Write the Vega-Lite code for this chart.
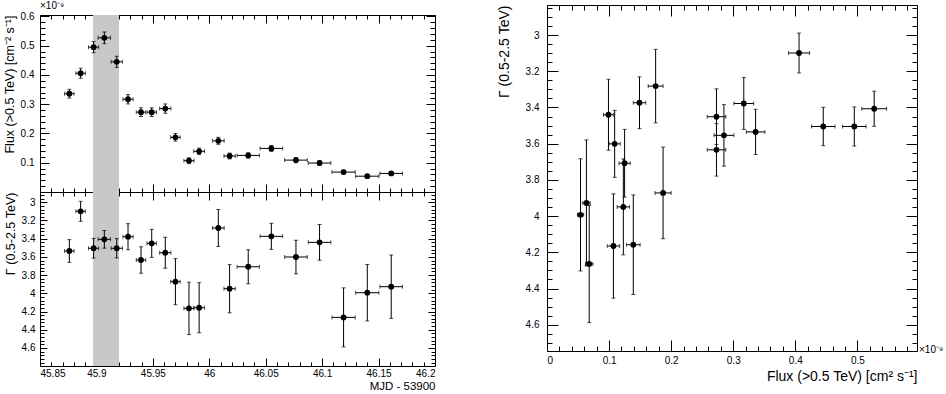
{
  "$schema": "https://vega.github.io/schema/vega-lite/v6.json",
  "padding": {"left": 2, "top": 0, "right": 0, "bottom": 0},
  "background": "white",
  "config": {
    "font": "Liberation Sans",
    "view": {"stroke": "black", "strokeWidth": 1},
    "axis": {"domain": false, "grid": false, "ticks": true, "zindex": 2, "tickColor": "black", "tickWidth": 1, "tickOpacity": 1, "labelFont": "Liberation Sans", "labelFontSize": 10, "labelColor": "black", "titleFont": "Liberation Sans", "titleFontWeight": "normal", "titleColor": "black", "format": "~g"},
    "axisX": {"ticks": true, "tickColor": "black", "tickWidth": 1, "tickOpacity": 1},
    "axisY": {"ticks": true, "tickColor": "black", "tickWidth": 1, "tickOpacity": 1},
    "axisQuantitative": {"ticks": true, "tickColor": "black", "tickWidth": 1, "tickOpacity": 1}
  },
  "data": {"values": [
    {"t": 45.876, "terr": 0.0042, "flux": 0.336, "ferr": 0.015, "g": 3.535, "gerr": 0.125},
    {"t": 45.886, "terr": 0.0042, "flux": 0.406, "ferr": 0.017, "g": 3.099, "gerr": 0.11},
    {"t": 45.8975, "terr": 0.0045, "flux": 0.495, "ferr": 0.019, "g": 3.505, "gerr": 0.108},
    {"t": 45.907, "terr": 0.0055, "flux": 0.527, "ferr": 0.02, "g": 3.407, "gerr": 0.097},
    {"t": 45.918, "terr": 0.005, "flux": 0.445, "ferr": 0.019, "g": 3.505, "gerr": 0.106},
    {"t": 45.928, "terr": 0.0045, "flux": 0.317, "ferr": 0.016, "g": 3.378, "gerr": 0.143},
    {"t": 45.9395, "terr": 0.0042, "flux": 0.273, "ferr": 0.015, "g": 3.634, "gerr": 0.145},
    {"t": 45.949, "terr": 0.0042, "flux": 0.273, "ferr": 0.015, "g": 3.451, "gerr": 0.154},
    {"t": 45.961, "terr": 0.005, "flux": 0.285, "ferr": 0.016, "g": 3.554, "gerr": 0.17},
    {"t": 45.97, "terr": 0.0042, "flux": 0.187, "ferr": 0.013, "g": 3.872, "gerr": 0.253},
    {"t": 45.982, "terr": 0.0045, "flux": 0.107, "ferr": 0.01, "g": 4.165, "gerr": 0.288},
    {"t": 45.991, "terr": 0.0048, "flux": 0.139, "ferr": 0.011, "g": 4.158, "gerr": 0.275},
    {"t": 46.008, "terr": 0.0052, "flux": 0.175, "ferr": 0.012, "g": 3.282, "gerr": 0.203},
    {"t": 46.018, "terr": 0.005, "flux": 0.123, "ferr": 0.01, "g": 3.949, "gerr": 0.265},
    {"t": 46.0345, "terr": 0.0099, "flux": 0.125, "ferr": 0.009, "g": 3.708, "gerr": 0.187},
    {"t": 46.055, "terr": 0.01, "flux": 0.149, "ferr": 0.01, "g": 3.374, "gerr": 0.143},
    {"t": 46.0768, "terr": 0.01, "flux": 0.109, "ferr": 0.009, "g": 3.601, "gerr": 0.185},
    {"t": 46.0977, "terr": 0.01, "flux": 0.099, "ferr": 0.008, "g": 3.44, "gerr": 0.196},
    {"t": 46.119, "terr": 0.0103, "flux": 0.068, "ferr": 0.006, "g": 4.264, "gerr": 0.324},
    {"t": 46.14, "terr": 0.0103, "flux": 0.054, "ferr": 0.005, "g": 3.993, "gerr": 0.31},
    {"t": 46.1612, "terr": 0.01, "flux": 0.0635, "ferr": 0.006, "g": 3.927, "gerr": 0.348}
  ]},
  "hconcat": [
    {
      "vconcat": [
        {
          "width": 395, "height": 10,
          "view": {"stroke": null},
          "data": {"values": [{}]},
          "mark": {"type": "point", "opacity": 0},
          "encoding": {}
        },
        {
          "width": 395, "height": 177,
          "resolve": {"axis": {"x": "independent", "y": "independent"}},
          "layer": [
            {
              "data": {"values": [{"s": 45.897, "e": 45.92}]},
              "mark": {"type": "rect", "color": "#c8c8c8"},
              "encoding": {
                "x": {"field": "s", "type": "quantitative", "axis": null, "scale": {"domain": [45.85, 46.2], "nice": false, "zero": false}},
                "x2": {"field": "e"}
              }
            },
            {
              "mark": {"type": "errorbar", "color": "black", "thickness": 1, "ticks": {"size": 4, "color": "black"}},
              "encoding": {
                "x": {"field": "t", "type": "quantitative", "axis": null, "scale": {"domain": [45.85, 46.2], "nice": false, "zero": false}},
                "xError": {"field": "terr"},
                "y": {"field": "flux", "type": "quantitative", "axis": null, "scale": {"domain": [0, 0.605], "nice": false, "zero": false}}
              }
            },
            {
              "mark": {"type": "errorbar", "color": "black", "thickness": 1, "ticks": {"size": 4, "color": "black"}},
              "encoding": {
                "x": {"field": "t", "type": "quantitative", "axis": null, "scale": {"domain": [45.85, 46.2], "nice": false, "zero": false}},
                "y": {"field": "flux", "type": "quantitative", "axis": null, "scale": {"domain": [0, 0.605], "nice": false, "zero": false}},
                "yError": {"field": "ferr"}
              }
            },
            {
              "mark": {"type": "circle", "size": 34, "color": "black", "opacity": 1},
              "encoding": {
                "x": {"field": "t", "type": "quantitative", "scale": {"domain": [45.85, 46.2], "nice": false, "zero": false},
                  "axis": {"orient": "bottom", "title": null, "labels": false, "values": [45.85,45.9,45.95,46,46.05,46.1,46.15,46.2], "ticks": true, "tickColor": "black", "tickWidth": 1, "tickOpacity": 1, "tickSize": 8, "offset": -8}},
                "y": {"field": "flux", "type": "quantitative", "scale": {"domain": [0, 0.605], "nice": false, "zero": false},
                  "axis": {"orient": "left", "title": "Flux (>0.5 TeV) [cm⁻² s⁻¹]", "titleAnchor": "end", "titleFontSize": 12.5, "titlePadding": 4,
                    "values": [0.1,0.2,0.3,0.4,0.5,0.6], "labelPadding": 6, "ticks": true, "tickColor": "black", "tickWidth": 1, "tickOpacity": 1, "tickSize": 9, "offset": -9}}
              }
            },
            {
              "mark": {"type": "circle", "opacity": 0},
              "encoding": {
                "x": {"field": "t", "type": "quantitative", "scale": {"domain": [45.85, 46.2], "nice": false, "zero": false},
                  "axis": {"orient": "bottom", "title": null, "labels": false, "ticks": true, "tickColor": "black", "tickWidth": 1, "tickOpacity": 1, "tickSize": 4, "offset": -4,
                    "values": [45.86,45.87,45.88,45.89,45.91,45.92,45.93,45.94,45.96,45.97,45.98,45.99,46.01,46.02,46.03,46.04,46.06,46.07,46.08,46.09,46.11,46.12,46.13,46.14,46.16,46.17,46.18,46.19]}},
                "y": {"field": "flux", "type": "quantitative", "scale": {"domain": [0, 0.605], "nice": false, "zero": false},
                  "axis": {"orient": "left", "title": null, "labels": false, "ticks": true, "tickColor": "black", "tickWidth": 1, "tickOpacity": 1, "tickSize": 5, "offset": -5,
                    "values": [0.02,0.04,0.06,0.08,0.12,0.14,0.16,0.18,0.22,0.24,0.26,0.28,0.32,0.34,0.36,0.38,0.42,0.44,0.46,0.48,0.52,0.54,0.56,0.58]}}
              }
            },
            {
              "mark": {"type": "circle", "opacity": 0},
              "encoding": {
                "x": {"field": "t", "type": "quantitative", "scale": {"domain": [45.85, 46.2], "nice": false, "zero": false},
                  "axis": {"orient": "top", "title": null, "labels": false, "values": [45.85,45.9,45.95,46,46.05,46.1,46.15,46.2], "ticks": true, "tickColor": "black", "tickWidth": 1, "tickOpacity": 1, "tickSize": 8, "offset": -8}},
                "y": {"field": "flux", "type": "quantitative", "scale": {"domain": [0, 0.605], "nice": false, "zero": false},
                  "axis": {"orient": "right", "title": null, "labels": false, "values": [0.1,0.2,0.3,0.4,0.5,0.6], "ticks": true, "tickColor": "black", "tickWidth": 1, "tickOpacity": 1, "tickSize": 9, "offset": -9}}
              }
            },
            {
              "mark": {"type": "circle", "opacity": 0},
              "encoding": {
                "x": {"field": "t", "type": "quantitative", "scale": {"domain": [45.85, 46.2], "nice": false, "zero": false},
                  "axis": {"orient": "top", "title": null, "labels": false, "ticks": true, "tickColor": "black", "tickWidth": 1, "tickOpacity": 1, "tickSize": 4, "offset": -4,
                    "values": [45.86,45.87,45.88,45.89,45.91,45.92,45.93,45.94,45.96,45.97,45.98,45.99,46.01,46.02,46.03,46.04,46.06,46.07,46.08,46.09,46.11,46.12,46.13,46.14,46.16,46.17,46.18,46.19]}},
                "y": {"field": "flux", "type": "quantitative", "scale": {"domain": [0, 0.605], "nice": false, "zero": false},
                  "axis": {"orient": "right", "title": null, "labels": false, "ticks": true, "tickColor": "black", "tickWidth": 1, "tickOpacity": 1, "tickSize": 5, "offset": -5,
                    "values": [0.02,0.04,0.06,0.08,0.12,0.14,0.16,0.18,0.22,0.24,0.26,0.28,0.32,0.34,0.36,0.38,0.42,0.44,0.46,0.48,0.52,0.54,0.56,0.58]}}
              }
            },
            {
              "data": {"values": [{"lab": "×10⁻⁹"}]},
              "mark": {"type": "text", "align": "left", "baseline": "alphabetic", "dy": -6, "fontSize": 10, "color": "black"},
              "encoding": {
                "x": {"datum": 45.85, "type": "quantitative", "axis": null, "scale": {"domain": [45.85, 46.2], "nice": false, "zero": false}},
                "y": {"datum": 0.605, "type": "quantitative", "axis": null, "scale": {"domain": [0, 0.605], "nice": false, "zero": false}},
                "text": {"field": "lab"}
              }
            }
          ]
        },
        {
          "width": 395, "height": 174,
          "resolve": {"axis": {"x": "independent", "y": "independent"}},
          "layer": [
            {
              "data": {"values": [{"s": 45.897, "e": 45.92}]},
              "mark": {"type": "rect", "color": "#c8c8c8"},
              "encoding": {
                "x": {"field": "s", "type": "quantitative", "axis": null, "scale": {"domain": [45.85, 46.2], "nice": false, "zero": false}},
                "x2": {"field": "e"}
              }
            },
            {
              "mark": {"type": "errorbar", "color": "black", "thickness": 1, "ticks": {"size": 4, "color": "black"}},
              "encoding": {
                "x": {"field": "t", "type": "quantitative", "axis": null, "scale": {"domain": [45.85, 46.2], "nice": false, "zero": false}},
                "xError": {"field": "terr"},
                "y": {"field": "g", "type": "quantitative", "axis": null, "scale": {"domain": [2.887, 4.798], "nice": false, "zero": false, "reverse": true}}
              }
            },
            {
              "mark": {"type": "errorbar", "color": "black", "thickness": 1, "ticks": {"size": 4, "color": "black"}},
              "encoding": {
                "x": {"field": "t", "type": "quantitative", "axis": null, "scale": {"domain": [45.85, 46.2], "nice": false, "zero": false}},
                "y": {"field": "g", "type": "quantitative", "axis": null, "scale": {"domain": [2.887, 4.798], "nice": false, "zero": false, "reverse": true}},
                "yError": {"field": "gerr"}
              }
            },
            {
              "mark": {"type": "circle", "size": 34, "color": "black", "opacity": 1},
              "encoding": {
                "x": {"field": "t", "type": "quantitative", "scale": {"domain": [45.85, 46.2], "nice": false, "zero": false},
                  "axis": {"orient": "bottom", "title": "MJD - 53900", "titleAnchor": "end", "titleFontSize": 11.5, "titlePadding": 2,
                    "values": [45.85,45.9,45.95,46,46.05,46.1,46.15,46.2], "labelPadding": 2, "ticks": true, "tickColor": "black", "tickWidth": 1, "tickOpacity": 1, "tickSize": 8, "offset": -8}},
                "y": {"field": "g", "type": "quantitative", "scale": {"domain": [2.887, 4.798], "nice": false, "zero": false, "reverse": true},
                  "axis": {"orient": "left", "title": "Γ (0.5-2.5 TeV)", "titleAnchor": "start", "titleAlign": "right", "titleFontSize": 12.5, "titlePadding": 4,
                    "values": [3,3.2,3.4,3.6,3.8,4,4.2,4.4,4.6], "labelPadding": 5, "ticks": true, "tickColor": "black", "tickWidth": 1, "tickOpacity": 1, "tickSize": 7, "offset": -7}}
              }
            },
            {
              "mark": {"type": "circle", "opacity": 0},
              "encoding": {
                "x": {"field": "t", "type": "quantitative", "scale": {"domain": [45.85, 46.2], "nice": false, "zero": false},
                  "axis": {"orient": "bottom", "title": null, "labels": false, "ticks": true, "tickColor": "black", "tickWidth": 1, "tickOpacity": 1, "tickSize": 4, "offset": -4,
                    "values": [45.86,45.87,45.88,45.89,45.91,45.92,45.93,45.94,45.96,45.97,45.98,45.99,46.01,46.02,46.03,46.04,46.06,46.07,46.08,46.09,46.11,46.12,46.13,46.14,46.16,46.17,46.18,46.19]}},
                "y": {"field": "g", "type": "quantitative", "scale": {"domain": [2.887, 4.798], "nice": false, "zero": false, "reverse": true},
                  "axis": {"orient": "left", "title": null, "labels": false, "ticks": true, "tickColor": "black", "tickWidth": 1, "tickOpacity": 1, "tickSize": 4, "offset": -4,
                    "values": [2.92,2.96,3.04,3.08,3.12,3.16,3.24,3.28,3.32,3.36,3.44,3.48,3.52,3.56,3.64,3.68,3.72,3.76,3.84,3.88,3.92,3.96,4.04,4.08,4.12,4.16,4.24,4.28,4.32,4.36,4.44,4.48,4.52,4.56,4.64,4.68,4.72,4.76]}}
              }
            },
            {
              "mark": {"type": "circle", "opacity": 0},
              "encoding": {
                "x": {"field": "t", "type": "quantitative", "scale": {"domain": [45.85, 46.2], "nice": false, "zero": false},
                  "axis": {"orient": "top", "title": null, "labels": false, "values": [45.85,45.9,45.95,46,46.05,46.1,46.15,46.2], "ticks": true, "tickColor": "black", "tickWidth": 1, "tickOpacity": 1, "tickSize": 8, "offset": -8}},
                "y": {"field": "g", "type": "quantitative", "scale": {"domain": [2.887, 4.798], "nice": false, "zero": false, "reverse": true},
                  "axis": {"orient": "right", "title": null, "labels": false, "values": [3,3.2,3.4,3.6,3.8,4,4.2,4.4,4.6], "ticks": true, "tickColor": "black", "tickWidth": 1, "tickOpacity": 1, "tickSize": 7, "offset": -7}}
              }
            },
            {
              "mark": {"type": "circle", "opacity": 0},
              "encoding": {
                "x": {"field": "t", "type": "quantitative", "scale": {"domain": [45.85, 46.2], "nice": false, "zero": false},
                  "axis": {"orient": "top", "title": null, "labels": false, "ticks": true, "tickColor": "black", "tickWidth": 1, "tickOpacity": 1, "tickSize": 4, "offset": -4,
                    "values": [45.86,45.87,45.88,45.89,45.91,45.92,45.93,45.94,45.96,45.97,45.98,45.99,46.01,46.02,46.03,46.04,46.06,46.07,46.08,46.09,46.11,46.12,46.13,46.14,46.16,46.17,46.18,46.19]}},
                "y": {"field": "g", "type": "quantitative", "scale": {"domain": [2.887, 4.798], "nice": false, "zero": false, "reverse": true},
                  "axis": {"orient": "right", "title": null, "labels": false, "ticks": true, "tickColor": "black", "tickWidth": 1, "tickOpacity": 1, "tickSize": 4, "offset": -4,
                    "values": [2.92,2.96,3.04,3.08,3.12,3.16,3.24,3.28,3.32,3.36,3.44,3.48,3.52,3.56,3.64,3.68,3.72,3.76,3.84,3.88,3.92,3.96,4.04,4.08,4.12,4.16,4.24,4.28,4.32,4.36,4.44,4.48,4.52,4.56,4.64,4.68,4.72,4.76]}}
              }
            }
          ]
        }
      ],
      "spacing": 0,
      "bounds": "flush"
    },
    {
      "width": 370, "height": 346,
      "resolve": {"axis": {"x": "independent", "y": "independent"}},
      "layer": [
        {
          "mark": {"type": "errorbar", "color": "black", "thickness": 1, "ticks": {"size": 4, "color": "black"}},
          "encoding": {
            "x": {"field": "flux", "type": "quantitative", "axis": null, "scale": {"domain": [0, 0.596], "nice": false, "zero": false}},
            "xError": {"field": "ferr"},
            "y": {"field": "g", "type": "quantitative", "axis": null, "scale": {"domain": [2.834, 4.745], "nice": false, "zero": false, "reverse": true}}
          }
        },
        {
          "mark": {"type": "errorbar", "color": "black", "thickness": 1, "ticks": {"size": 4, "color": "black"}},
          "encoding": {
            "x": {"field": "flux", "type": "quantitative", "axis": null, "scale": {"domain": [0, 0.596], "nice": false, "zero": false}},
            "y": {"field": "g", "type": "quantitative", "axis": null, "scale": {"domain": [2.834, 4.745], "nice": false, "zero": false, "reverse": true}},
            "yError": {"field": "gerr"}
          }
        },
        {
          "mark": {"type": "circle", "size": 34, "color": "black", "opacity": 1},
          "encoding": {
            "x": {"field": "flux", "type": "quantitative", "scale": {"domain": [0, 0.596], "nice": false, "zero": false},
              "axis": {"orient": "bottom", "title": "Flux (>0.5 TeV) [cm² s⁻¹]", "titleAnchor": "end", "titleFontSize": 14, "titlePadding": 4,
                "values": [0,0.1,0.2,0.3,0.4,0.5], "labelPadding": 4, "ticks": true, "tickColor": "black", "tickWidth": 1, "tickOpacity": 1, "tickSize": 11, "offset": -11}},
            "y": {"field": "g", "type": "quantitative", "scale": {"domain": [2.834, 4.745], "nice": false, "zero": false, "reverse": true},
              "axis": {"orient": "left", "title": "Γ (0.5-2.5 TeV)", "titleAnchor": "start", "titleAlign": "right", "titleFontSize": 14, "titlePadding": 14,
                "values": [3,3.2,3.4,3.6,3.8,4,4.2,4.4,4.6], "labelPadding": 8, "ticks": true, "tickColor": "black", "tickWidth": 1, "tickOpacity": 1, "tickSize": 11, "offset": -11}}
          }
        },
        {
          "mark": {"type": "circle", "opacity": 0},
          "encoding": {
            "x": {"field": "flux", "type": "quantitative", "scale": {"domain": [0, 0.596], "nice": false, "zero": false},
              "axis": {"orient": "bottom", "title": null, "labels": false, "ticks": true, "tickColor": "black", "tickWidth": 1, "tickOpacity": 1, "tickSize": 5, "offset": -5,
                "values": [0.02,0.04,0.06,0.08,0.12,0.14,0.16,0.18,0.22,0.24,0.26,0.28,0.32,0.34,0.36,0.38,0.42,0.44,0.46,0.48,0.52,0.54,0.56,0.58]}},
            "y": {"field": "g", "type": "quantitative", "scale": {"domain": [2.834, 4.745], "nice": false, "zero": false, "reverse": true},
              "axis": {"orient": "left", "title": null, "labels": false, "ticks": true, "tickColor": "black", "tickWidth": 1, "tickOpacity": 1, "tickSize": 5, "offset": -5,
                "values": [2.85,2.9,2.95,3.05,3.1,3.15,3.25,3.3,3.35,3.45,3.5,3.55,3.65,3.7,3.75,3.85,3.9,3.95,4.05,4.1,4.15,4.25,4.3,4.35,4.45,4.5,4.55,4.65,4.7]}}
          }
        },
        {
          "mark": {"type": "circle", "opacity": 0},
          "encoding": {
            "x": {"field": "flux", "type": "quantitative", "scale": {"domain": [0, 0.596], "nice": false, "zero": false},
              "axis": {"orient": "top", "title": null, "labels": false, "values": [0,0.1,0.2,0.3,0.4,0.5], "ticks": true, "tickColor": "black", "tickWidth": 1, "tickOpacity": 1, "tickSize": 11, "offset": -11}},
            "y": {"field": "g", "type": "quantitative", "scale": {"domain": [2.834, 4.745], "nice": false, "zero": false, "reverse": true},
              "axis": {"orient": "right", "title": null, "labels": false, "values": [3,3.2,3.4,3.6,3.8,4,4.2,4.4,4.6], "ticks": true, "tickColor": "black", "tickWidth": 1, "tickOpacity": 1, "tickSize": 11, "offset": -11}}
          }
        },
        {
          "mark": {"type": "circle", "opacity": 0},
          "encoding": {
            "x": {"field": "flux", "type": "quantitative", "scale": {"domain": [0, 0.596], "nice": false, "zero": false},
              "axis": {"orient": "top", "title": null, "labels": false, "ticks": true, "tickColor": "black", "tickWidth": 1, "tickOpacity": 1, "tickSize": 5, "offset": -5,
                "values": [0.02,0.04,0.06,0.08,0.12,0.14,0.16,0.18,0.22,0.24,0.26,0.28,0.32,0.34,0.36,0.38,0.42,0.44,0.46,0.48,0.52,0.54,0.56,0.58]}},
            "y": {"field": "g", "type": "quantitative", "scale": {"domain": [2.834, 4.745], "nice": false, "zero": false, "reverse": true},
              "axis": {"orient": "right", "title": null, "labels": false, "ticks": true, "tickColor": "black", "tickWidth": 1, "tickOpacity": 1, "tickSize": 5, "offset": -5,
                "values": [2.85,2.9,2.95,3.05,3.1,3.15,3.25,3.3,3.35,3.45,3.5,3.55,3.65,3.7,3.75,3.85,3.9,3.95,4.05,4.1,4.15,4.25,4.3,4.35,4.45,4.5,4.55,4.65,4.7]}}
          }
        },
        {
          "data": {"values": [{"lab": "×10⁻⁹"}]},
          "mark": {"type": "text", "align": "left", "baseline": "alphabetic", "dx": 2, "dy": 2, "fontSize": 10, "color": "black"},
          "encoding": {
            "x": {"datum": 0.596, "type": "quantitative", "axis": null, "scale": {"domain": [0, 0.596], "nice": false, "zero": false}},
            "y": {"datum": 4.745, "type": "quantitative", "axis": null, "scale": {"domain": [2.834, 4.745], "nice": false, "zero": false, "reverse": true}},
            "text": {"field": "lab"}
          }
        }
      ]
    }
  ],
  "spacing": 60
}
